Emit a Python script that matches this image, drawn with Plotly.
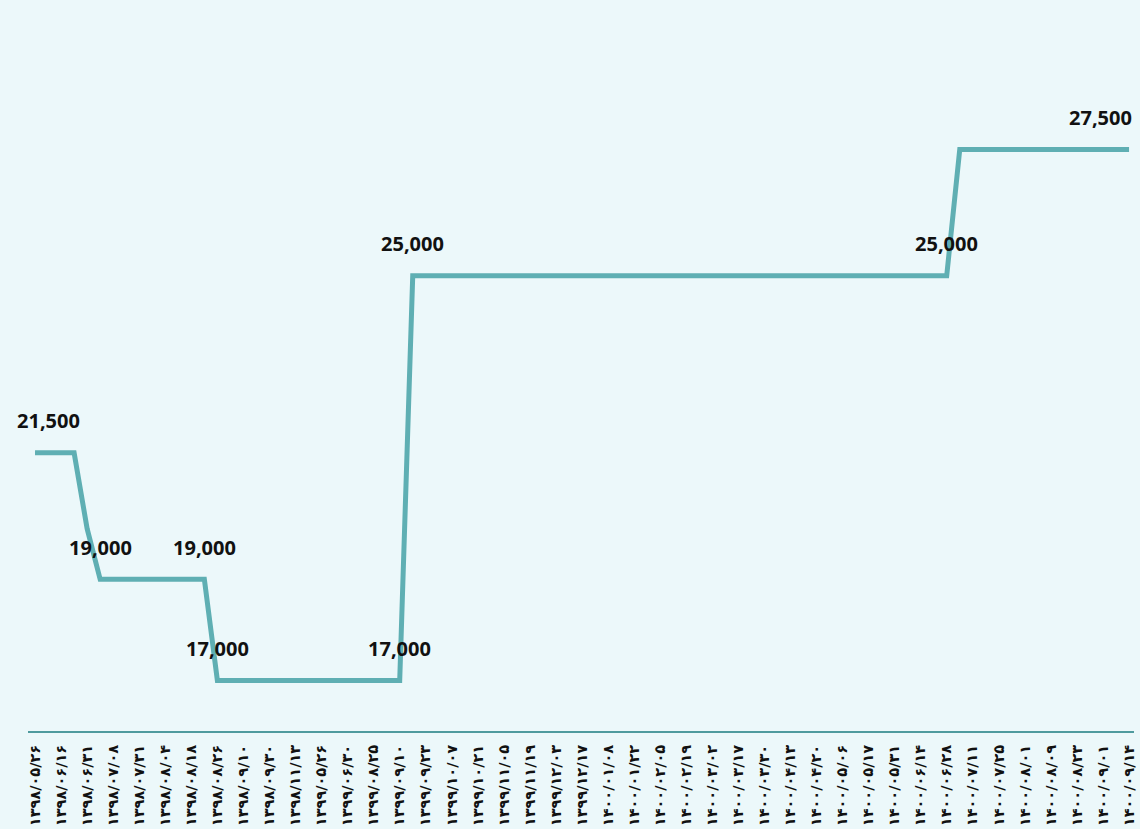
import plotly.graph_objects as go

# Date tick labels (every other data point carries a label)
tick_labels = [
    "۱۳۹۸/۰۵/۲۶", "۱۳۹۸/۰۶/۱۶", "۱۳۹۸/۰۶/۳۱", "۱۳۹۸/۰۷/۰۸", "۱۳۹۸/۰۷/۳۱",
    "۱۳۹۸/۰۸/۰۴", "۱۳۹۸/۰۸/۱۸", "۱۳۹۸/۰۸/۲۶", "۱۳۹۸/۰۹/۱۰", "۱۳۹۸/۰۹/۳۰",
    "۱۳۹۸/۱۱/۱۳", "۱۳۹۹/۰۵/۲۶", "۱۳۹۹/۰۶/۳۰", "۱۳۹۹/۰۸/۲۵", "۱۳۹۹/۰۹/۱۰",
    "۱۳۹۹/۰۹/۲۳", "۱۳۹۹/۱۰/۰۷", "۱۳۹۹/۱۰/۲۱", "۱۳۹۹/۱۱/۰۵", "۱۳۹۹/۱۱/۱۹",
    "۱۳۹۹/۱۲/۰۳", "۱۳۹۹/۱۲/۱۷", "۱۴۰۰/۰۱/۰۸", "۱۴۰۰/۰۱/۲۲", "۱۴۰۰/۰۲/۰۵",
    "۱۴۰۰/۰۲/۱۹", "۱۴۰۰/۰۳/۰۲", "۱۴۰۰/۰۳/۱۷", "۱۴۰۰/۰۳/۳۰", "۱۴۰۰/۰۴/۱۳",
    "۱۴۰۰/۰۴/۲۰", "۱۴۰۰/۰۵/۰۶", "۱۴۰۰/۰۵/۱۷", "۱۴۰۰/۰۵/۳۱", "۱۴۰۰/۰۶/۱۴",
    "۱۴۰۰/۰۶/۲۸", "۱۴۰۰/۰۷/۱۱", "۱۴۰۰/۰۷/۲۵", "۱۴۰۰/۰۸/۰۱", "۱۴۰۰/۰۸/۰۹",
    "۱۴۰۰/۰۸/۲۳", "۱۴۰۰/۰۹/۰۱", "۱۴۰۰/۰۹/۱۴",
]

# Price values for each data point (85 points)
values = (
    [21500] * 4
    + [20000]
    + [19000] * 9
    + [17000] * 15
    + [25000] * 42
    + [27500] * 14
)

# Points carrying a data label
label_points = [0, 5, 13, 14, 28, 29, 70, 84]

x_idx = list(range(len(values)))
tick_vals = list(range(0, len(values), 2))

fig = go.Figure()
fig.add_trace(go.Scatter(
    x=x_idx, y=values, mode="lines",
    line=dict(color="#5fafb3", width=5),
    hoverinfo="skip",
))

label_shift = {0: 13, 84: -29}
for i in label_points:
    fig.add_annotation(
        x=x_idx[i], y=values[i], text=f"{values[i]:,}",
        showarrow=False, yshift=32, xshift=label_shift.get(i, 0),
        font=dict(family="Noto Sans", size=20, color="#111111", weight="bold"),
    )

fig.update_layout(
    width=1140, height=829,
    margin=dict(l=28, r=3, t=23, b=97),
    paper_bgcolor="#ecf8fa", plot_bgcolor="#ecf8fa",
    showlegend=False,
    xaxis=dict(
        range=[-0.54, 84.38],
        tickmode="array", tickvals=tick_vals, ticktext=tick_labels,
        tickangle=-90, ticks="", showgrid=False, zeroline=False,
        showline=True, linecolor="#4f9b9e", linewidth=2,
        tickfont=dict(family="DejaVu Sans", size=14.5, color="#111111", weight="bold"),
        ticklabelstandoff=6,
    ),
    yaxis=dict(
        range=[16000, 30000], visible=False, showgrid=False, zeroline=False,
    ),
)

fig.write_html(
    "out.html",
    config={"displayModeBar": False},
    post_script="document.body.style.margin='0';document.body.style.background='#ecf8fa';",
)
